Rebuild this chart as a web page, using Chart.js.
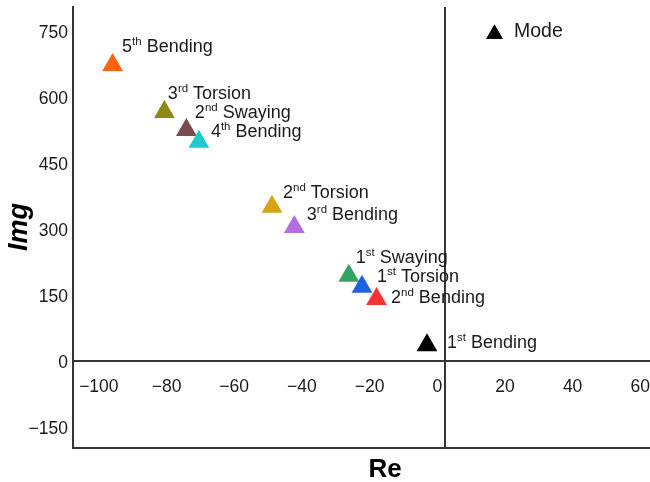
<!DOCTYPE html>
<html><head><meta charset="utf-8">
<script src="https://cdn.jsdelivr.net/npm/chart.js@4/dist/chart.umd.min.js"></script>
<style>html,body{margin:0;padding:0;background:#fff}canvas{display:block}</style>
</head><body>
<canvas id="c" width="650" height="482"></canvas>
<script>
// ---- data ----
const modeOrdinal = ['5', '3', '2', '4', '2', '3', '1', '1', '2', '1'];
const modeSuffix  = ['th', 'rd', 'nd', 'th', 'nd', 'rd', 'st', 'st', 'nd', 'st'];
const modeType    = ['Bending', 'Torsion', 'Swaying', 'Bending', 'Torsion', 'Bending', 'Swaying', 'Torsion', 'Bending', 'Bending'];
const reValues    = [-98.3, -83.0, -76.5, -72.8, -51.2, -44.6, -28.5, -24.6, -20.3, -5.4];
const imgValues   = [674, 567, 526, 499, 351, 305, 194, 169, 141, 36];
const xTicks = [-100, -80, -60, -40, -20, 0, 20, 40, 60];
const yTicks = [-150, 0, 150, 300, 450, 600, 750];
const seriesName = 'Mode';

// ---- styles ----
const pointColors = ['#ff6312', '#8c8a12', '#7a4b4b', '#1ccccc', '#d6a314', '#b36fe0', '#31a463', '#1d62e0', '#f23434', '#000000'];
const labelOffsets = [[9.5, -13], [3.5, -13], [8.5, -12], [12, -5], [11, -9], [12.5, -7], [7, -13], [15, -5], [14.5, 4], [20, 3]];
const FONT = '"Liberation Sans", Arial, Helvetica, sans-serif';
const LINE = '#363636';
const fmt = v => v < 0 ? '\u2212' + Math.abs(v) : String(v);

const labelPlugin = {
  id: 'modeLabels',
  afterDatasetsDraw(chart) {
    const ctx = chart.ctx;
    const meta = chart.getDatasetMeta(0);
    ctx.save();
    ctx.fillStyle = '#1a1a1a';
    ctx.textBaseline = 'alphabetic';
    ctx.textAlign = 'left';
    meta.data.forEach((pt, i) => {
      let x = pt.x + labelOffsets[i][0];
      const y = pt.y + labelOffsets[i][1];
      ctx.font = '18px ' + FONT;
      ctx.fillText(modeOrdinal[i], x, y);
      x += ctx.measureText(modeOrdinal[i]).width;
      ctx.font = '11.5px ' + FONT;
      ctx.fillText(modeSuffix[i], x, y - 7);
      x += ctx.measureText(modeSuffix[i]).width;
      ctx.font = '18px ' + FONT;
      ctx.fillText(' ' + modeType[i], x, y);
    });
    ctx.restore();
  }
};

const decoPlugin = {
  id: 'deco',
  afterDraw(chart) {
    const ctx = chart.ctx;
    const a = chart.chartArea;
    ctx.save();
    // legend
    Chart.helpers.drawPoint(ctx, {pointStyle: 'triangle', radius: 9.5, rotation: 0, borderWidth: 0}, a.right - 155.5, a.top + 27);
    ctx.fillStyle = '#000';
    ctx.fill();
    ctx.fillStyle = '#1a1a1a';
    ctx.font = '19.5px ' + FONT;
    ctx.textAlign = 'left';
    ctx.textBaseline = 'alphabetic';
    ctx.fillText(seriesName, a.right - 136, a.top + 30);
    // axis titles
    ctx.fillStyle = '#000';
    ctx.font = 'bold 26px ' + FONT;
    ctx.textAlign = 'center';
    ctx.fillText('Re', 385, 477);
    ctx.translate(27, 227);
    ctx.rotate(-Math.PI / 2);
    ctx.font = 'italic bold 27px ' + FONT;
    ctx.fillText('Img', 0, 0);
    ctx.restore();
  }
};

const noPad = s => { s.paddingLeft = 0; s.paddingRight = 0; s.paddingTop = 0; s.paddingBottom = 0; };

new Chart(document.getElementById('c'), {
  type: 'scatter',
  data: {
    datasets: [{
      label: seriesName,
      data: reValues.map((v, i) => ({x: v, y: imgValues[i]})),
      pointStyle: 'triangle',
      pointRadius: 12,
      pointHoverRadius: 12,
      pointBackgroundColor: pointColors,
      pointBorderWidth: 0,
      pointBorderColor: 'rgba(0,0,0,0)',
      clip: false
    }]
  },
  options: {
    responsive: false,
    animation: false,
    devicePixelRatio: 1,
    layout: {autoPadding: false, padding: {top: 7, right: 0, left: 0, bottom: 0}},
    plugins: {legend: {display: false}, tooltip: {enabled: false}},
    scales: {
      x: {
        type: 'linear', min: -110, max: 60.5, position: {y: 0},
        afterBuildTicks: s => { s.ticks = xTicks.map(v => ({value: v})); },
        afterFit: noPad,
        grid: {display: true, drawTicks: false, lineWidth: 2,
               color: c => (c.tick && c.tick.value === 0) ? LINE : 'rgba(0,0,0,0)'},
        border: {display: true, color: LINE, width: 2},
        ticks: {font: {family: FONT, size: 17.5}, color: '#1a1a1a', padding: 16, labelOffset: -8,
                maxRotation: 0, autoSkip: false, callback: fmt}
      },
      xb: {
        type: 'linear', axis: 'x', min: -110, max: 60.5, position: 'bottom',
        afterFit: s => { noPad(s); s.height = 34; },
        grid: {display: false, drawTicks: false},
        border: {display: true, color: LINE, width: 2},
        ticks: {display: false}
      },
      y: {
        type: 'linear', min: -198, max: 806, position: 'left',
        afterBuildTicks: s => { s.ticks = yTicks.map(v => ({value: v})); },
        afterFit: s => { noPad(s); s.width = 73; },
        grid: {display: false, drawTicks: false},
        border: {display: true, color: LINE, width: 2},
        ticks: {font: {family: FONT, size: 17.5}, color: '#1a1a1a', padding: 5, labelOffset: 2, callback: fmt}
      }
    }
  },
  plugins: [labelPlugin, decoPlugin]
});
</script>
</body></html>
